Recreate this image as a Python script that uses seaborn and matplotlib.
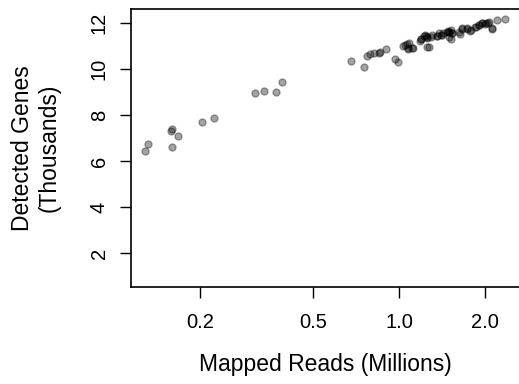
import matplotlib
matplotlib.use("Agg")
import matplotlib.pyplot as plt
import seaborn as sns
import pandas as pd

reads_millions = [
    0.128, 0.131, 0.159, 0.158, 0.167, 0.159, 0.203, 0.224, 0.313, 0.336, 0.371, 0.387,
    0.679, 0.754, 0.774, 0.789, 0.817, 0.851, 0.858, 0.898, 0.968, 0.992,
    1.035, 1.050, 1.084, 1.075, 1.120, 1.182, 1.191, 1.233, 1.256, 1.250,
    1.274, 1.292, 1.362, 1.400, 1.426, 1.497, 1.530, 1.525, 1.636, 1.667,
    1.735, 1.770, 1.846, 1.906, 1.958, 2.000, 2.055, 2.124, 2.210, 2.350,
    1.078, 1.113, 1.067, 1.191, 1.223, 1.257, 1.308, 1.362, 1.381, 1.418,
    1.477, 1.518, 1.497, 1.537, 1.623, 1.667, 1.735, 1.784, 1.857, 1.906,
    1.958, 2.014, 2.068, 2.124,
    1.240, 1.500, 1.480,
]
genes_thousands = [
    6.43, 6.77, 7.39, 7.32, 7.11, 6.62, 7.71, 7.90, 8.97, 9.06, 9.01, 9.45,
    10.37, 10.11, 10.59, 10.65, 10.70, 10.70, 10.77, 10.90, 10.43, 10.32,
    11.03, 11.06, 11.16, 10.87, 10.93, 11.22, 11.30, 11.48, 11.42, 10.98,
    10.98, 11.39, 11.45, 11.49, 11.57, 11.63, 11.57, 11.30, 11.52, 11.77,
    11.74, 11.68, 11.85, 11.93, 12.00, 11.97, 12.03, 11.77, 12.14, 12.20,
    10.91, 10.91, 11.09, 11.32, 11.46, 11.35, 11.49, 11.46, 11.57, 11.49,
    11.63, 11.71, 11.42, 11.57, 11.63, 11.78, 11.81, 11.71, 11.85, 11.93,
    12.00, 12.00, 12.04, 11.78,
    11.45, 11.60, 11.66,
]
x_ticks = [0.2, 0.5, 1.0, 2.0]
x_tick_labels = ["0.2", "0.5", "1.0", "2.0"]
y_ticks = [2, 4, 6, 8, 10, 12]
y_tick_labels = ["2", "4", "6", "8", "10", "12"]

df = pd.DataFrame({"reads": reads_millions, "genes": genes_thousands})

sns.set_style("ticks")
plt.rcParams["font.family"] = ["Liberation Sans", "DejaVu Sans"]

fig = plt.figure(figsize=(5.19, 3.84), dpi=100)
W, H = 519, 384
left, right, top, bottom = 131, 520, 9, 287
ax = fig.add_axes([left / W, 1 - bottom / H, (right - left) / W, (bottom - top) / H])

sns.scatterplot(data=df, x="reads", y="genes", ax=ax, s=26,
                color=(0, 0, 0, 0.36), edgecolor=(0, 0, 0, 0.36),
                linewidth=0.9, legend=False)

ax.set_xscale("log")
ax.set_xlim(0.1144, 2.66)
ax.set_ylim(0.53, 12.62)
ax.minorticks_off()
ax.set_xticks(x_ticks)
ax.set_xticklabels(x_tick_labels)
ax.set_yticks(y_ticks)
ax.set_yticklabels(y_tick_labels, rotation=90, va="center")

for side in ["left", "bottom", "top"]:
    ax.spines[side].set_visible(True)
    ax.spines[side].set_linewidth(1.2)
    ax.spines[side].set_color("black")
ax.spines["right"].set_visible(False)

ax.tick_params(axis="both", which="major", direction="out", length=8,
               width=1.0, color="black", labelsize=14.5, labelcolor="black")
ax.tick_params(axis="x", pad=11)
ax.tick_params(axis="y", pad=8)

ax.set_xlabel("Mapped Reads (Millions)", fontsize=16.5, color="black")
ax.set_ylabel("Detected Genes\n(Thousands)", fontsize=16.5, color="black",
              linespacing=1.2)
ax.xaxis.set_label_coords(0.5, -0.28)
ax.xaxis.label.set_va("center")
ax.yaxis.set_label_coords(-0.245, 0.5)
ax.yaxis.label.set_va("center")
ax.yaxis.label.set_ha("center")

fig.savefig("out.png", dpi=100)
